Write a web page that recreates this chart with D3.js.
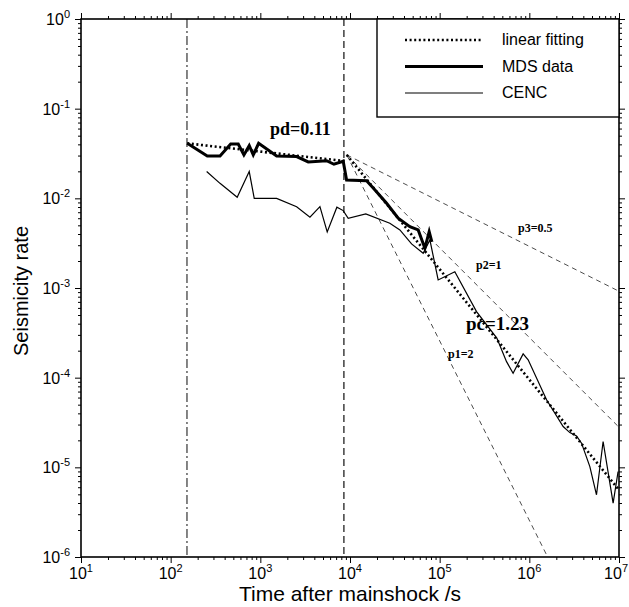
<!DOCTYPE html>
<html>
<head>
<meta charset="utf-8">
<script src="https://cdn.jsdelivr.net/npm/d3@7"></script>
<style>
  body { margin: 0; background: #fff; }
  svg { font-family: "Liberation Sans", Arial, sans-serif; }
</style>
</head>
<body>
<div id="chart"></div>
<script>
// Data
var mdsT = [153, 256, 355, 467, 567, 656, 752, 834, 957, 1520, 2540, 3420, 5480, 6620, 8400, 9160,
            15300, 18150, 25600, 34460, 46500, 57600, 68400, 76400, 81800];
var mdsR = [0.0411, 0.0297, 0.0297, 0.0404, 0.0404, 0.0305, 0.0387, 0.0305, 0.0411, 0.0297, 0.0292, 0.0255,
            0.0263, 0.0240, 0.0259, 0.0160, 0.0157, 0.0130, 0.00881, 0.0060, 0.00483, 0.00444, 0.00278, 0.00425, 0.00327];

var cencT = [252, 355, 552, 752, 855, 1520, 2540, 3575, 4620, 5570, 7140, 8400, 9550, 15000, 27800, 36000,
             48600, 65500, 77800, 96200, 147600, 257700, 434000, 557000, 659000, 853000, 970000, 1556000,
             2384000, 2830000, 3360000, 3820000, 4730000, 5610000, 6650000, 8600000, 9770000];
var cencR = [0.0199, 0.0147, 0.0103, 0.0199, 0.0100, 0.0100, 0.00807, 0.00615, 0.00807, 0.00422, 0.00796, 0.00730,
             0.0060, 0.0067, 0.00528, 0.00444, 0.0031, 0.00244, 0.00344, 0.00123, 0.00152, 0.000546, 0.000276,
             0.000151, 0.000112, 0.000184, 0.000158, 0.0000566, 0.0000285, 0.0000244, 0.0000224, 0.0000186,
             0.0000102, 0.00000494, 0.0000194, 0.00000399, 0.00000898];

// linear fitting (two segments)
var fit1T = [153, 8800];
var fit1R = [0.041, 0.026];
var fit2T = [9200, 1e7];
var fit2R = [0.0305, 5.6e-6];

// reference slopes p1, p2, p3
var pNames = ["p1=2", "p2=1", "p3=0.5"];
var pEndT = [1.6e6, 1e7, 1e7];
var pEndR = [1e-6, 2.8e-5, 9.2e-4];
var pStartT = 9200;
var pStartR = 0.0305;

// vertical markers
var vLines = [152, 8550];

var xExp = [1, 2, 3, 4, 5, 6, 7];
var yExp = [0, -1, -2, -3, -4, -5, -6];

var width = 629, height = 607;
var plot = { left: 81, right: 619, top: 19, bottom: 557 };

var svg = d3.select('#chart').append('svg')
    .attr('width', width)
    .attr('height', height);

var x = d3.scaleLog().domain([10, 1e7]).range([plot.left, plot.right]);
var y = d3.scaleLog().domain([1e-6, 1]).range([plot.bottom, plot.top]);

var xMajor = xExp.map(function (e) { return Math.pow(10, e); });
var yMajor = yExp.map(function (e) { return Math.pow(10, e); });
var xMinor = x.ticks().filter(function (v) { return xMajor.indexOf(v) < 0; });
var yMinor = y.ticks().filter(function (v) { return yMajor.indexOf(v) < 0; });

svg.append('clipPath').attr('id', 'clip')
    .append('rect')
    .attr('x', plot.left).attr('y', plot.top)
    .attr('width', plot.right - plot.left).attr('height', plot.bottom - plot.top);

// Axes: ticks on all four sides, pointing outward
function drawAxis(axisFn, scale, tr, values, size) {
    svg.append('g')
        .attr('class', 'axis')
        .attr('transform', tr)
        .call(axisFn(scale).tickValues(values).tickSize(size).tickFormat(''))
        .call(function (g) { g.select('.domain').remove(); });
}
drawAxis(d3.axisBottom, x, 'translate(0,' + plot.bottom + ')', xMajor, 6);
drawAxis(d3.axisBottom, x, 'translate(0,' + plot.bottom + ')', xMinor, 3);
drawAxis(d3.axisTop, x, 'translate(0,' + plot.top + ')', xMajor, 6);
drawAxis(d3.axisTop, x, 'translate(0,' + plot.top + ')', xMinor, 3);
drawAxis(d3.axisLeft, y, 'translate(' + plot.left + ',0)', yMajor, 6);
drawAxis(d3.axisLeft, y, 'translate(' + plot.left + ',0)', yMinor, 3);
drawAxis(d3.axisRight, y, 'translate(' + plot.right + ',0)', yMajor, 6);
drawAxis(d3.axisRight, y, 'translate(' + plot.right + ',0)', yMinor, 3);
svg.selectAll('.axis line').attr('stroke', '#000').attr('stroke-width', 1);

// Tick labels with superscript exponents
xExp.forEach(function (e, i) {
    var last = i === xExp.length - 1;
    var t = svg.append('text')
        .attr('x', last ? width - 1 : x(Math.pow(10, e)))
        .attr('y', 579)
        .attr('text-anchor', last ? 'end' : 'middle')
        .attr('font-size', 16);
    t.append('tspan').text('10');
    t.append('tspan').attr('dy', -7).attr('font-size', 11).text(e);
});
yExp.forEach(function (e) {
    var t = svg.append('text')
        .attr('x', 70)
        .attr('y', y(Math.pow(10, e)) + 6)
        .attr('text-anchor', 'end')
        .attr('font-size', 16);
    t.append('tspan').text('10');
    t.append('tspan').attr('dy', -7).attr('font-size', 11).text(e);
});

// Axis titles
svg.append('text')
    .attr('x', (plot.left + plot.right) / 2)
    .attr('y', 601)
    .attr('text-anchor', 'middle')
    .attr('font-size', 21)
    .text('Time after mainshock /s');

svg.append('text')
    .attr('transform', 'translate(28,291) rotate(-90)')
    .attr('text-anchor', 'middle')
    .attr('font-size', 20)
    .text('Seismicity rate');

var line = d3.line()
    .x(function (d) { return x(d[0]); })
    .y(function (d) { return y(d[1]); });
function pairs(ts, rs) { return ts.map(function (t, i) { return [t, rs[i]]; }); }

var g = svg.append('g').attr('clip-path', 'url(#clip)');

// Vertical markers
g.append('line')
    .attr('x1', x(vLines[0])).attr('x2', x(vLines[0]))
    .attr('y1', plot.top).attr('y2', plot.bottom)
    .attr('stroke', '#444').attr('stroke-width', 1.3)
    .attr('stroke-dasharray', '9,3,2,3');
g.append('line')
    .attr('x1', x(vLines[1])).attr('x2', x(vLines[1]))
    .attr('y1', plot.top).attr('y2', plot.bottom)
    .attr('stroke', '#222').attr('stroke-width', 1.3)
    .attr('stroke-dasharray', '7,4');

// Reference slope lines
pEndT.forEach(function (t, i) {
    g.append('path')
        .attr('d', line([[pStartT, pStartR], [t, pEndR[i]]]))
        .attr('fill', 'none')
        .attr('stroke', '#000').attr('stroke-width', 0.7)
        .attr('stroke-dasharray', '5,4');
});

// CENC (thin)
g.append('path')
    .attr('d', line(pairs(cencT, cencR)))
    .attr('fill', 'none').attr('stroke', '#000').attr('stroke-width', 1.2)
    .attr('stroke-linejoin', 'miter');

// MDS data (thick)
g.append('path')
    .attr('d', line(pairs(mdsT, mdsR)))
    .attr('fill', 'none').attr('stroke', '#000').attr('stroke-width', 3)
    .attr('stroke-linejoin', 'miter');

// linear fitting (dotted)
[pairs(fit1T, fit1R), pairs(fit2T, fit2R)].forEach(function (seg) {
    g.append('path')
        .attr('d', line(seg))
        .attr('fill', 'none').attr('stroke', '#000').attr('stroke-width', 2.6)
        .attr('stroke-dasharray', '2,2.6');
});

// Plot frame
svg.append('rect')
    .attr('x', plot.left).attr('y', plot.top)
    .attr('width', plot.right - plot.left).attr('height', plot.bottom - plot.top)
    .attr('fill', 'none').attr('stroke', '#000').attr('stroke-width', 1.6);

// Annotations
var serif = '"Liberation Serif", "Times New Roman", serif';
svg.append('text').attr('x', 270).attr('y', 135)
    .attr('font-family', serif).attr('font-weight', 'bold').attr('font-size', 18)
    .text('pd=0.11');
svg.append('text').attr('x', 466).attr('y', 330)
    .attr('font-family', serif).attr('font-weight', 'bold').attr('font-size', 19)
    .text('pc=1.23');
var pLabelPos = [[448, 358], [476, 269], [518, 232]];
pNames.forEach(function (n, i) {
    svg.append('text').attr('x', pLabelPos[i][0]).attr('y', pLabelPos[i][1])
        .attr('font-family', serif).attr('font-weight', 'bold').attr('font-size', 12)
        .text(n);
});

// Legend
var legendNames = ['linear fitting', 'MDS data', 'CENC'];
var legendWidth = [2.6, 3, 1.2];
var legendDash = ['2,2.6', null, null];
var legend = svg.append('g');
legend.append('rect')
    .attr('x', 377).attr('y', plot.top)
    .attr('width', plot.right - 377).attr('height', 117 - plot.top)
    .attr('fill', '#fff').attr('stroke', '#000').attr('stroke-width', 1.4);
legendNames.forEach(function (n, i) {
    var ly = 40 + i * 26.5;
    legend.append('line')
        .attr('x1', 405).attr('x2', 483).attr('y1', ly).attr('y2', ly)
        .attr('stroke', '#000').attr('stroke-width', legendWidth[i])
        .attr('stroke-dasharray', legendDash[i]);
    legend.append('text')
        .attr('x', 502).attr('y', ly + 5)
        .attr('font-size', 16)
        .text(n);
});
</script>
</body>
</html>
